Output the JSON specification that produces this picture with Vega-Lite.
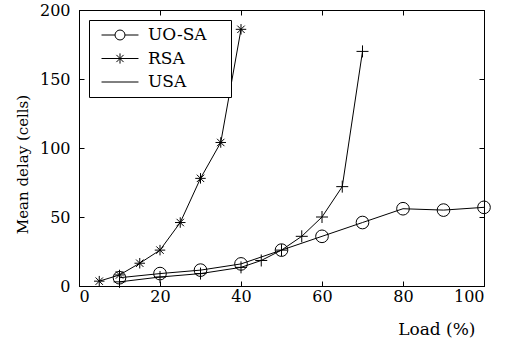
{
  "$schema": "https://vega.github.io/schema/vega-lite/v6.json",
  "autosize": {"type": "none"},
  "width": 405,
  "height": 276,
  "padding": {"left": 79, "top": 10, "right": 22, "bottom": 59},
  "background": "white",
  "config": {
    "view": {"stroke": "black", "strokeWidth": 1},
    "font": "DejaVu Serif",
    "axis": {
      "grid": false,
      "domainColor": "black",
      "tickColor": "black",
      "labelColor": "black",
      "titleColor": "black",
      "labelFont": "DejaVu Serif",
      "titleFont": "DejaVu Serif",
      "labelFontSize": 16,
      "titleFontSize": 17,
      "titleFontWeight": "normal",
      "tickSize": -5
    },
    "legend": {
      "labelFont": "DejaVu Serif",
      "labelFontSize": 17,
      "labelColor": "black"
    }
  },
  "data": {
    "values": [
      {"series": "UO-SA", "load": 10, "delay": 6},
      {"series": "UO-SA", "load": 20, "delay": 9},
      {"series": "UO-SA", "load": 30, "delay": 11.5},
      {"series": "UO-SA", "load": 40, "delay": 16},
      {"series": "UO-SA", "load": 50, "delay": 26},
      {"series": "UO-SA", "load": 60, "delay": 36},
      {"series": "UO-SA", "load": 70, "delay": 46},
      {"series": "UO-SA", "load": 80, "delay": 56},
      {"series": "UO-SA", "load": 90, "delay": 55},
      {"series": "UO-SA", "load": 100, "delay": 57},
      {"series": "RSA", "load": 5, "delay": 3.5},
      {"series": "RSA", "load": 10, "delay": 8},
      {"series": "RSA", "load": 15, "delay": 16.5},
      {"series": "RSA", "load": 20, "delay": 26},
      {"series": "RSA", "load": 25, "delay": 46},
      {"series": "RSA", "load": 30, "delay": 78},
      {"series": "RSA", "load": 35, "delay": 104},
      {"series": "RSA", "load": 40, "delay": 186},
      {"series": "USA", "load": 10, "delay": 3},
      {"series": "USA", "load": 20, "delay": 6.5},
      {"series": "USA", "load": 30, "delay": 9},
      {"series": "USA", "load": 40, "delay": 13.5},
      {"series": "USA", "load": 45, "delay": 18.5},
      {"series": "USA", "load": 50, "delay": 26},
      {"series": "USA", "load": 55, "delay": 36},
      {"series": "USA", "load": 60, "delay": 50},
      {"series": "USA", "load": 65, "delay": 72},
      {"series": "USA", "load": 70, "delay": 170}
    ]
  },
  "layer": [
    {
      "mark": {"type": "line", "color": "black", "strokeWidth": 1},
      "encoding": {
        "x": {
          "field": "load", "type": "quantitative",
          "scale": {"domain": [0, 100], "nice": false},
          "axis": {
            "values": [0, 20, 40, 60, 80, 100],
            "title": "Load (%)",
            "labelPadding": 7,
            "titleAnchor": "start",
            "titleX": 396,
            "titleY": 48,
            "titleAlign": "right",
            "titleBaseline": "alphabetic"
          }
        },
        "y": {
          "field": "delay", "type": "quantitative",
          "scale": {"domain": [0, 200], "nice": false},
          "axis": {
            "values": [0, 50, 100, 150, 200],
            "title": "Mean delay (cells)",
            "titleFontSize": 15,
            "labelPadding": 14,
            "titleX": -57,
            "titleY": 154,
            "titleAngle": 270,
            "titleAlign": "center",
            "titleBaseline": "middle"
          }
        },
        "detail": {"field": "series"},
        "order": {"field": "load"}
      }
    },
    {
      "mark": {"type": "point", "filled": false, "color": "black", "strokeWidth": 1, "opacity": 1},
      "encoding": {
        "x": {"field": "load", "type": "quantitative", "axis": null},
        "y": {"field": "delay", "type": "quantitative", "axis": null},
        "shape": {
          "field": "series",
          "scale": {
            "domain": ["UO-SA", "RSA", "USA"],
            "range": [
              "circle",
              "M0,-0.85L0,0.85M-0.85,0L0.85,0M-0.6,-0.6L0.6,0.6M-0.6,0.6L0.6,-0.6",
              "M0,-1L0,1M-1,0L1,0"
            ]
          },
          "legend": null
        },
        "size": {
          "field": "series",
          "scale": {"domain": ["UO-SA", "RSA", "USA"], "range": [160, 144, 120]},
          "legend": null
        }
      }
    },
    {
      "mark": {"type": "point", "filled": false, "color": "black", "opacity": 0},
      "encoding": {
        "x": {
          "field": "load", "type": "quantitative",
          "axis": {"orient": "top", "labels": false, "title": null, "values": [0, 20, 40, 60, 80, 100]}
        },
        "y": {
          "field": "delay", "type": "quantitative",
          "axis": {"orient": "right", "labels": false, "title": null, "values": [0, 50, 100, 150, 200]}
        },
        "shape": {
          "field": "series",
          "scale": {
            "domain": ["UO-SA", "RSA", "USA"],
            "range": [
              "M-3.08,0L-0.83,0M0.83,0L3.08,0M-0.83,0A0.83,0.83 0 1,1 0.83,0A0.83,0.83 0 1,1 -0.83,0",
              "M-3.08,0L3.08,0M0,-0.85L0,0.85M-0.6,-0.6L0.6,0.6M-0.6,0.6L0.6,-0.6",
              "M-3.08,0L3.08,0"
            ]
          },
          "legend": {
            "title": null,
            "orient": "top-left",
            "offset": 10,
            "padding": 6.5,
            "strokeColor": "black",
            "fillColor": "white",
            "symbolSize": 144,
            "symbolOffset": 16,
            "labelOffset": 19.5,
            "rowPadding": 5.5,
            "symbolStrokeColor": "black",
            "symbolStrokeWidth": 1,
            "symbolOpacity": 1,
            "symbolFillColor": "transparent",
            "labelFont": "DejaVu Serif",
            "labelExpr": "datum.label + ' \u2800'"
          }
        }
      }
    }
  ],
  "resolve": {"axis": {"x": "independent", "y": "independent"}, "scale": {"shape": "independent"}}
}
